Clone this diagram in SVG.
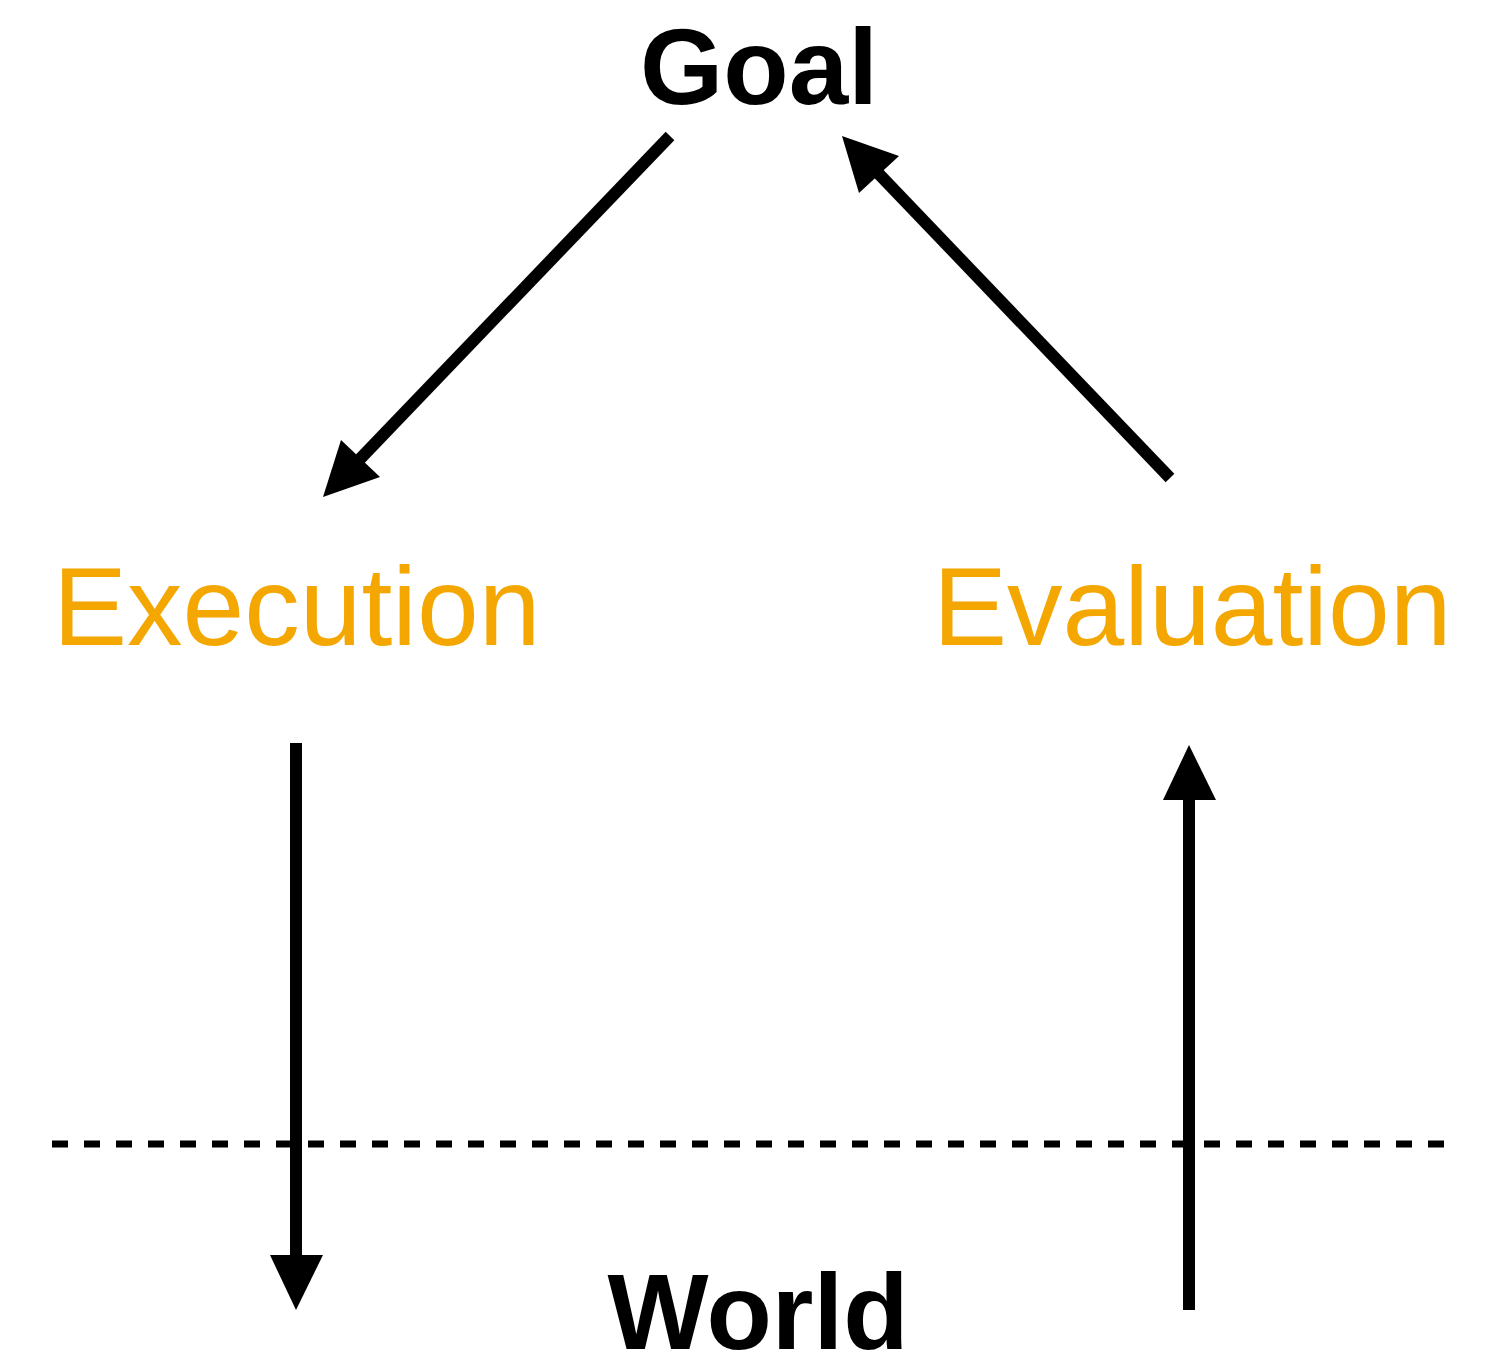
<svg xmlns="http://www.w3.org/2000/svg" width="1496" height="1363" viewBox="0 0 1496 1363">
<style>
.title{font-family:"Liberation Sans",Arial,sans-serif;font-weight:bold;font-size:107px;fill:#000}
.stage{font-family:"Liberation Sans",Arial,sans-serif;font-size:111px;fill:#F4A700}
.edge{stroke:#000;stroke-width:12;fill:none}
</style>
<rect width="1496" height="1363" fill="#fff"/>
<g id="goal"><text class="title" x="759" y="104" text-anchor="middle">Goal</text></g>
<g id="execution"><text class="stage" x="53" y="645">Execution</text></g>
<g id="evaluation"><text class="stage" x="933" y="645">Evaluation</text></g>
<g id="world"><text class="title" x="758" y="1349" text-anchor="middle">World</text></g>
<g id="boundary"><line x1="52" y1="1144" x2="1448" y2="1144" stroke="#000" stroke-width="7" stroke-dasharray="16 16"/></g>
<g id="connectors">
<line class="edge" x1="670" y1="136" x2="360" y2="459"/>
<polygon points="323,497 341,440 380,477" fill="#000"/>
<line class="edge" x1="1170" y1="478" x2="878" y2="173"/>
<polygon points="842,136 899,156 859,193" fill="#000"/>
<line class="edge" x1="296" y1="743" x2="296" y2="1258"/>
<polygon points="270,1255 323,1255 296,1310" fill="#000"/>
<line class="edge" x1="1189" y1="1310" x2="1189" y2="797"/>
<polygon points="1163,800 1216,800 1189,745" fill="#000"/>
</g>
</svg>
